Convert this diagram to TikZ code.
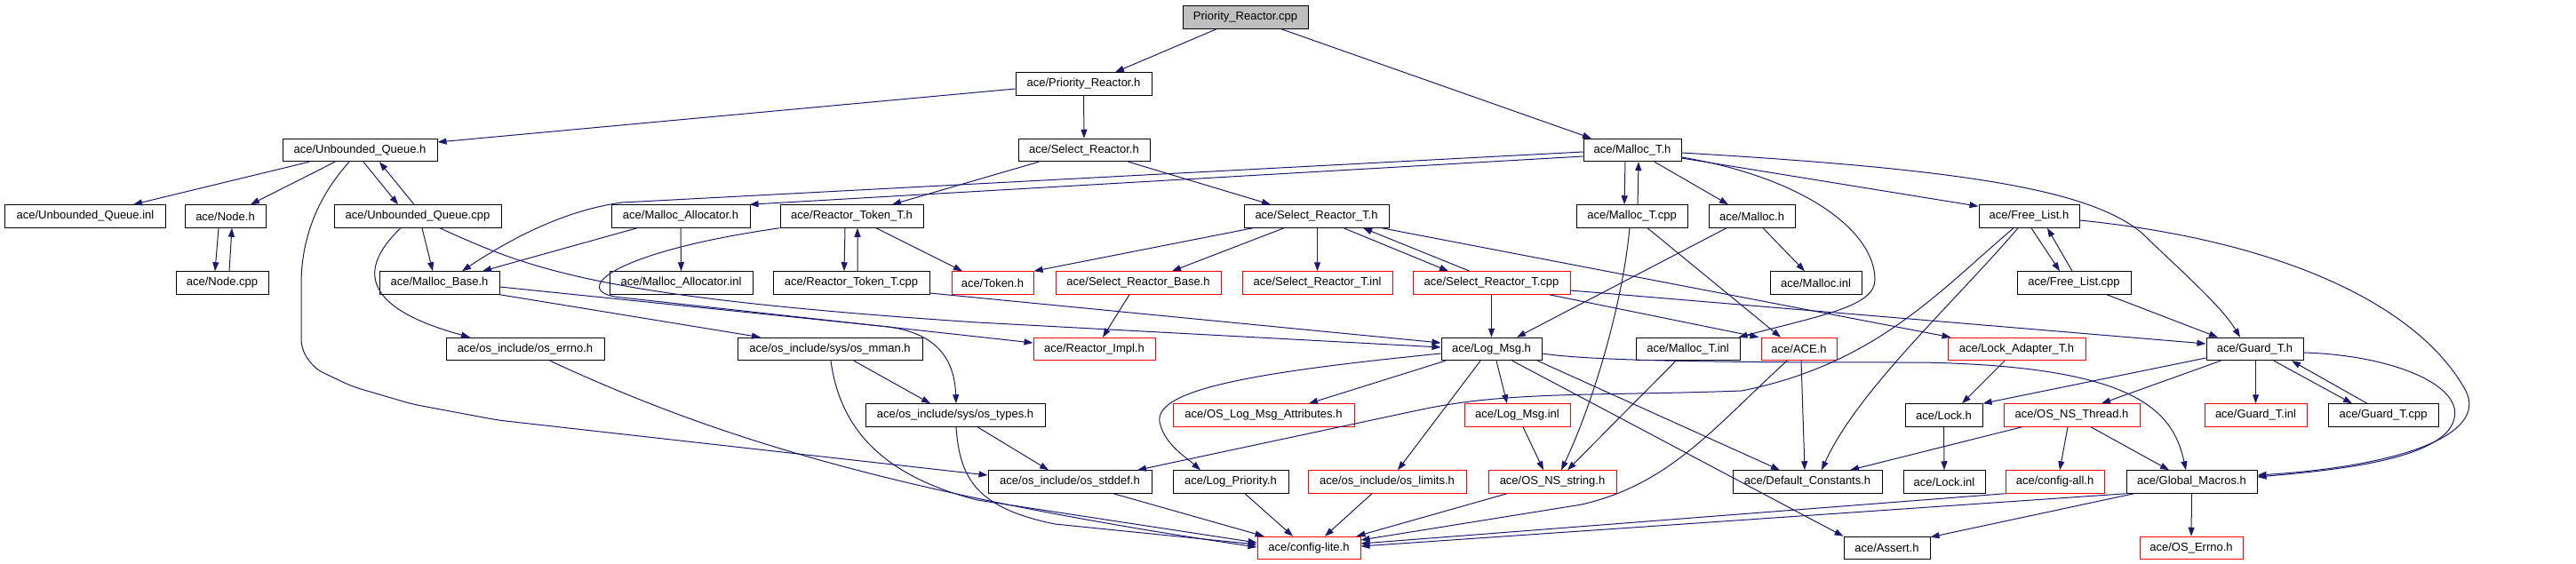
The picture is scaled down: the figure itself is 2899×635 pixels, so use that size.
\documentclass[tikz,border=0pt]{standalone}
\usepackage{fontspec}
\setmainfont{Liberation Sans}
\usetikzlibrary{arrows.meta}
\definecolor{edgeblue}{HTML}{191970}
\definecolor{boxred}{HTML}{FF0000}
\definecolor{rootgray}{HTML}{BFBFBF}
\begin{document}
\begin{tikzpicture}[x=1bp,y=-1bp,
  box/.style={draw=black, line width=1bp, minimum height=25.5bp, inner sep=0pt, font=\fontsize{13bp}{15bp}\selectfont, text=black},
  trunc/.style={box, draw=boxred},
  root/.style={box, fill=rootgray},
  dep/.style={draw=edgeblue, line width=1bp, -{Triangle[length=10bp,width=7bp]}}
]
\useasboundingbox (0,0) rectangle (2899,635);
% row 0
\node[root, minimum width=141bp] (prc) at (1401.5,19.5) {Priority\_Reactor.cpp};
% row 1
\node[box, minimum width=153bp] (prh) at (1219.5,94.5) {ace/Priority\_Reactor.h};
% row 2
\node[box, minimum width=174bp] (uqh) at (405,169) {ace/Unbounded\_Queue.h};
\node[box, minimum width=148bp] (srh) at (1220,169) {ace/Select\_Reactor.h};
\node[box, minimum width=110bp] (mth) at (1837,169) {ace/Malloc\_T.h};
% row 3
\node[box, minimum width=180bp] (uqinl) at (96,243.5) {ace/Unbounded\_Queue.inl};
\node[box, minimum width=91bp] (nodeh) at (253.5,243.5) {ace/Node.h};
\node[box, minimum width=188bp] (uqcpp) at (470,243.5) {ace/Unbounded\_Queue.cpp};
\node[box, minimum width=156bp] (mah) at (766,243.5) {ace/Malloc\_Allocator.h};
\node[box, minimum width=161bp] (rtth) at (958.5,243.5) {ace/Reactor\_Token\_T.h};
\node[box, minimum width=163bp] (srth) at (1481.5,243.5) {ace/Select\_Reactor\_T.h};
\node[box, minimum width=125bp] (mtcpp) at (1836.5,243.5) {ace/Malloc\_T.cpp};
\node[box, minimum width=97bp] (malloch) at (1971.5,243.5) {ace/Malloc.h};
\node[box, minimum width=113bp] (flh) at (2283.5,243.5) {ace/Free\_List.h};
% row 4
\node[box, minimum width=104bp] (nodecpp) at (250,318.5) {ace/Node.cpp};
\node[box, minimum width=135bp] (mbh) at (494.5,318.5) {ace/Malloc\_Base.h};
\node[box, minimum width=161bp] (mainl) at (766.5,318.5) {ace/Malloc\_Allocator.inl};
\node[box, minimum width=176bp] (rttcpp) at (958,318.5) {ace/Reactor\_Token\_T.cpp};
\node[trunc, minimum width=92bp] (tokenh) at (1117,318.5) {ace/Token.h};
\node[trunc, minimum width=186bp] (srbh) at (1281,318.5) {ace/Select\_Reactor\_Base.h};
\node[trunc, minimum width=169bp] (srtinl) at (1482.5,318.5) {ace/Select\_Reactor\_T.inl};
\node[trunc, minimum width=177bp] (srtcpp) at (1678.5,318.5) {ace/Select\_Reactor\_T.cpp};
\node[box, minimum width=103bp] (mallocinl) at (2043.5,318.5) {ace/Malloc.inl};
\node[box, minimum width=128bp] (flcpp) at (2334,318.5) {ace/Free\_List.cpp};
% row 5
\node[box, minimum width=178bp] (oserrno) at (591,393) {ace/os\_include/os\_errno.h};
\node[box, minimum width=208bp] (osmman) at (934,393) {ace/os\_include/sys/os\_mman.h};
\node[trunc, minimum width=137bp] (reactorimpl) at (1231.5,393) {ace/Reactor\_Impl.h};
\node[box, minimum width=113bp] (logmsgh) at (1678.5,393) {ace/Log\_Msg.h};
\node[box, minimum width=117bp] (mtinl) at (1899.5,393) {ace/Malloc\_T.inl};
\node[trunc, minimum width=85bp] (aceh) at (2024.5,393) {ace/ACE.h};
\node[trunc, minimum width=155bp] (lockadapter) at (2269.5,393) {ace/Lock\_Adapter\_T.h};
\node[box, minimum width=109bp] (guardth) at (2537.5,393) {ace/Guard\_T.h};
% row 6
\node[box, minimum width=202bp] (ostypes) at (1075,467.5) {ace/os\_include/sys/os\_types.h};
\node[trunc, minimum width=204bp] (oslogattr) at (1422,467.5) {ace/OS\_Log\_Msg\_Attributes.h};
\node[trunc, minimum width=119bp] (logmsginl) at (1707.5,467.5) {ace/Log\_Msg.inl};
\node[box, minimum width=87bp] (lockh) at (2187.5,467.5) {ace/Lock.h};
\node[trunc, minimum width=153bp] (osnsthread) at (2331.5,467.5) {ace/OS\_NS\_Thread.h};
\node[trunc, minimum width=115bp] (guardtinl) at (2538.5,467.5) {ace/Guard\_T.inl};
\node[box, minimum width=124bp] (guardtcpp) at (2682,467.5) {ace/Guard\_T.cpp};
% row 7
\node[box, minimum width=184bp] (osstddef) at (1204,542.5) {ace/os\_include/os\_stddef.h};
\node[box, minimum width=130bp] (logprio) at (1385,542.5) {ace/Log\_Priority.h};
\node[trunc, minimum width=178bp] (oslimits) at (1561,542.5) {ace/os\_include/os\_limits.h};
\node[trunc, minimum width=144bp] (osnsstring) at (1747,542.5) {ace/OS\_NS\_string.h};
\node[box, minimum width=168bp] (defconst) at (2034,542.5) {ace/Default\_Constants.h};
\node[box, minimum width=92bp] (lockinl) at (2188,542.5) {ace/Lock.inl};
\node[trunc, minimum width=111bp] (configall) at (2312.5,542.5) {ace/config-all.h};
\node[box, minimum width=147bp] (globalmacros) at (2466.5,542.5) {ace/Global\_Macros.h};
% row 8
\node[trunc, minimum width=116bp] (configlite) at (1473,617) {ace/config-lite.h};
\node[box, minimum width=97bp] (asserth) at (2123.5,617) {ace/Assert.h};
\node[trunc, minimum width=116bp] (oserrnoh) at (2466,617) {ace/OS\_Errno.h};

% edges
\draw[dep] ([xshift=-32.5bp]prc.south) -- ([xshift=35.5bp]prh.north);
\draw[dep] ([xshift=40.5bp]prc.south) -- ([xshift=-46bp]mth.north);
\draw[dep] ([yshift=-5.5bp]prh.west) -- ([yshift=9bp]uqh.east);
\draw[dep] (prh.south) -- (srh.north);
\draw[dep] ([xshift=-51bp]srh.south) -- ([xshift=45.5bp]rtth.north);
\draw[dep] ([xshift=50bp]srh.south) -- ([xshift=-51.5bp]srth.north);
\draw[dep] ([xshift=-57bp]uqh.south) -- ([xshift=54bp]uqinl.north);
\draw[dep] ([xshift=-28bp]uqh.south) -- ([xshift=28.5bp]nodeh.north);
\draw[dep] ([xshift=4bp]uqh.south) -- ([xshift=-22bp]uqcpp.north);
\draw[dep] ([xshift=-4bp]uqcpp.north) -- ([xshift=22bp]uqh.south);
\draw[dep] ([xshift=-7.5bp]nodeh.south) -- ([xshift=-8bp]nodecpp.north);
\draw[dep] ([xshift=8bp]nodecpp.north) -- ([xshift=7.5bp]nodeh.south);
\draw[dep, rounded corners=10bp] ([xshift=-12bp]uqh.south) .. controls (350,230) and (339,280) .. (339,330) -- (339,393) -- (354,415) -- (396,435) -- (464,455) -- (560,473) -- ([yshift=7.5bp]osstddef.west);
\draw[dep] ([xshift=5bp]uqcpp.south) -- ([xshift=-7.5bp]mbh.north);
\draw[dep] ([xshift=-19bp]uqcpp.south) .. controls (395,310) and (420,350) .. ([xshift=-62bp]oserrno.north);
\draw[dep] ([xshift=25bp]uqcpp.south) .. controls (600,305) and (680,335) .. (1100,363) -- ([yshift=2bp]logmsgh.west);
\draw[dep] (mah.south) -- (mainl.north);
\draw[dep] ([xshift=-49bp]mah.south) -- ([xshift=48.5bp]mbh.north);
\draw[dep] ([yshift=-2bp]mth.west) -- (700,228) .. controls (640,236) and (580,265) .. ([xshift=25.5bp]mbh.north);
\draw[dep] ([yshift=-7bp]mth.west) -- ([xshift=-1bp]mah.north east);
\draw[dep] ([xshift=-7.5bp]rtth.south) -- ([xshift=-8bp]rttcpp.north);
\draw[dep] ([xshift=7bp]rttcpp.north) -- ([xshift=6.5bp]rtth.south);
\draw[dep] ([xshift=27.5bp]rtth.south) -- ([xshift=-34bp]tokenh.north);
\draw[dep] (rtth.south west) .. controls (680,285) and (640,330) .. (700,335) -- ([yshift=7bp]reactorimpl.west);
\draw[dep] ([yshift=-11.5bp]rttcpp.east) -- ([yshift=7bp]logmsgh.west);
\draw[dep] ([xshift=-71.5bp]srth.south) -- (tokenh.north east);
\draw[dep] ([xshift=-36.5bp]srth.south) -- ([xshift=38bp]srbh.north);
\draw[dep] ([xshift=1bp]srth.south) -- (srtinl.north);
\draw[dep] ([xshift=30.5bp]srth.south) -- ([xshift=-48.5bp]srtcpp.north);
\draw[dep] ([xshift=-24.5bp]srtcpp.north) -- ([xshift=52.5bp]srth.south);
\draw[dep] ([xshift=73.5bp]srth.south) -- ([xshift=4bp]lockadapter.north west);
\draw[dep] (srtcpp.south) -- (logmsgh.north);
\draw[dep] ([xshift=-24bp]srtcpp.south east) -- ([xshift=-2bp]aceh.north west);
\draw[dep] ([yshift=-8.5bp]srtcpp.east) -- ([yshift=6bp]guardth.west);
\draw[dep] ([xshift=-10bp]srbh.south) -- ([xshift=9.5bp]reactorimpl.north);
\draw[dep] ([xshift=-8bp]mth.south) -- ([xshift=-8.5bp]mtcpp.north);
\draw[dep] ([xshift=6.5bp]mtcpp.north) -- ([xshift=7bp]mth.south);
\draw[dep] ([xshift=25bp]mth.south) -- ([xshift=-26.5bp]malloch.north);
\draw[dep] ([yshift=-9bp]mth.east) -- ([yshift=-2bp]flh.north west);
\draw[dep] ([yshift=-3bp]mth.east) .. controls (2200,190) and (2350,212) .. (2410,262) .. controls (2460,310) and (2500,345) .. ([xshift=-16.5bp]guardth.north);
\draw[dep] ([yshift=-8bp]mth.east) .. controls (2030,200) and (2110,260) .. (2110,315) .. controls (2110,345) and (2050,355) .. ([xshift=-2bp]mtinl.north east);
\draw[dep] ([xshift=12.5bp]malloch.south) -- ([xshift=-12.5bp]mallocinl.north);
\draw[dep] ([xshift=-28.5bp]malloch.south) -- ([xshift=28.5bp]logmsgh.north);
\draw[dep] ([xshift=17.5bp]mtcpp.south) -- ([xshift=-20.5bp]aceh.north);
\draw[dep] ([xshift=-2.5bp]mtcpp.south) .. controls (1825,350) and (1790,460) .. ([xshift=10bp]osnsstring.north);
\draw[dep] ([xshift=2.5bp]flh.south) -- ([xshift=-16bp]flcpp.north);
\draw[dep] ([xshift=-2bp]flcpp.north) -- ([xshift=20.5bp]flh.south);
\draw[dep] ([xshift=37bp]flcpp.south) -- ([xshift=-41.5bp]guardth.north);
\draw[dep] ([xshift=-17.5bp]flh.south) .. controls (2180,330) and (2110,410) .. (1960,440) .. controls (1800,446) and (1700,440) .. (1600,461) -- ([xshift=76bp]osstddef.north);
\draw[dep] ([xshift=-12.5bp]flh.south) .. controls (2200,340) and (2090,440) .. ([xshift=16bp]defconst.north);
\draw[dep] ([yshift=-4.5bp]flh.east) .. controls (2560,270) and (2720,340) .. (2775,440) .. controls (2800,490) and (2700,525) .. ([yshift=7.5bp]globalmacros.east);
\draw[dep] ([yshift=-4bp]guardth.east) .. controls (2700,400) and (2790,440) .. (2755,485) .. controls (2725,520) and (2620,530) .. ([yshift=5.5bp]globalmacros.east);
\draw[dep] ([yshift=-10bp]guardth.west) -- (lockh.north east);
\draw[dep] ([xshift=-38.5bp]guardth.south) -- ([xshift=33.5bp]osnsthread.north);
\draw[dep] ([xshift=1bp]guardth.south) -- (guardtinl.north);
\draw[dep] ([xshift=21.5bp]guardth.south) -- ([xshift=-35bp]guardtcpp.north);
\draw[dep] ([xshift=-18bp]guardtcpp.north) -- ([xshift=41.5bp]guardth.south);
\draw[dep] ([xshift=-13.5bp]lockadapter.south) -- ([xshift=20.5bp]lockh.north);
\draw[dep] (lockh.south) -- (lockinl.north);
\draw[dep] ([xshift=-4.5bp]osnsthread.south) -- ([xshift=5.5bp]configall.north);
\draw[dep] ([xshift=21.5bp]osnsthread.south) -- ([xshift=-25.5bp]globalmacros.north);
\draw[dep] ([xshift=21bp]osnsthread.south west) -- ([xshift=48bp]defconst.north);
\draw[dep] (globalmacros.south) -- (oserrnoh.north);
\draw[dep] ([xshift=9bp]globalmacros.south west) -- ([yshift=-1bp]asserth.north east);
\draw[dep] (globalmacros.south west) -- ([yshift=2bp]configlite.east);
\draw[dep] (configall.south west) -- ([yshift=5bp]configlite.east);
\draw[dep] ([xshift=-13.5bp]aceh.south) .. controls (1930,480) and (1880,545) .. (1780,568) -- ([yshift=9bp]configlite.east);
\draw[dep] ([xshift=2.5bp]aceh.south) -- ([xshift=-3bp]defconst.north);
\draw[dep] ([xshift=-13.5bp]mtinl.south) -- ([xshift=17bp]osnsstring.north);
\draw[dep] ([xshift=5.5bp]logmsgh.south) -- ([xshift=-11.5bp]logmsginl.north);
\draw[dep] ([xshift=5bp]logmsgh.south west) -- ([xshift=51bp]oslogattr.north);
\draw[dep] ([yshift=-5bp]logmsgh.west) .. controls (1400,420) and (1300,440) .. (1305,475) .. controls (1310,500) and (1335,515) .. ([xshift=-34bp]logprio.north);
\draw[dep] ([xshift=-12.5bp]logmsgh.south) -- ([xshift=12bp]oslimits.north);
\draw[dep] ([xshift=-5bp]logmsgh.south east) -- ([xshift=-31bp]defconst.north);
\draw[dep] ([xshift=23.5bp]logmsgh.south) -- (asserth.north west);
\draw[dep] ([yshift=-5bp]logmsgh.east) .. controls (1800,408) and (2000,408) .. (2160,408) .. controls (2400,412) and (2445,460) .. ([xshift=-6.5bp]globalmacros.north);
\draw[dep] ([xshift=6.5bp]logmsginl.south) -- ([xshift=-10bp]osnsstring.north);
\draw[dep] ([xshift=25bp]ostypes.south) -- ([xshift=-24bp]osstddef.north);
\draw[dep] ([xshift=1bp]ostypes.south) .. controls (1080,540) and (1100,572) .. (1187,590) -- ([yshift=4bp]configlite.west);
\draw[dep] ([xshift=27bp]osmman.south) -- ([xshift=-28bp]ostypes.north);
\draw[dep] ([xshift=1bp]osmman.south) .. controls (945,480) and (990,535) .. (1100,563) -- ([yshift=6bp]configlite.west);
\draw[dep] ([xshift=28bp]oserrno.south) .. controls (800,490) and (1000,555) .. ([yshift=1bp]configlite.west);
\draw[dep] ([xshift=49bp]osstddef.south) -- ([xshift=8bp]configlite.north west);
\draw[dep] ([xshift=16bp]logprio.south) -- ([xshift=-18bp]configlite.north);
\draw[dep] ([xshift=-17bp]oslimits.south) -- ([xshift=18bp]configlite.north);
\draw[dep] ([xshift=-51bp]osnsstring.south) -- ([xshift=-5bp]configlite.north east);
\draw[dep] (mbh.south east) -- ([xshift=-78bp]osmman.north);
\draw[dep] ([yshift=-4.5bp]mbh.east) -- (1000,368) .. controls (1050,375) and (1074,400) .. ([xshift=1bp]ostypes.north);
\end{tikzpicture}
\end{document}
